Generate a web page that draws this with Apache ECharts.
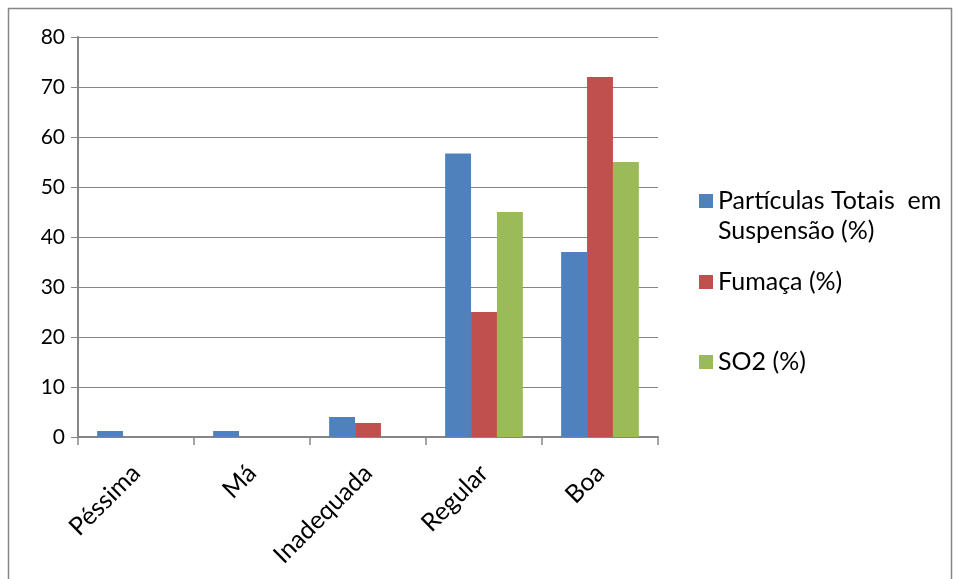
<!DOCTYPE html>
<html>
<head>
<meta charset="utf-8">
<script src="https://cdn.jsdelivr.net/npm/echarts@6/dist/echarts.min.js"></script>
<style>
  html, body { margin: 0; padding: 0; background: #fff; }
  #chart { width: 957px; height: 579px; }
</style>
</head>
<body>
<div id="chart"></div>
<script>
// Air-quality classes and share of samples per pollutant (%)
var categories = ['Péssima', 'Má', 'Inadequada', 'Regular', 'Boa'];
var seriesNames = ['Partículas Totais  em Suspensão (%)', 'Fumaça (%)', 'SO2 (%)'];
var ptsValues = [1.2, 1.2, 4.0, 56.7, 37];
var fumacaValues = [0, 0, 2.8, 25, 72];
var so2Values = [0, 0, 0, 45, 55];
var yTicks = { min: 0, max: 80, interval: 10 };

var colors = ['#4F81BD', '#C0504D', '#9BBB59'];
var fontFamily = 'Lato, "Open Sans", sans-serif';
var gray = '#868686';

var chart = echarts.init(document.getElementById('chart'), null, { renderer: 'canvas' });

// One legend block per series so each entry can sit at its own height.
// The long name wraps onto two lines; a leading blank line keeps the
// swatch level with the first line of text.
function legendAt(name, top) {
  return {
    data: [name],
    left: 699,
    top: top,
    orient: 'vertical',
    padding: 0,
    itemWidth: 14,
    itemHeight: 14,
    itemGap: 0,
    icon: 'rect',
    selectedMode: false,
    formatter: function (n) {
      return n === seriesNames[0] ? ' \nPartículas Totais  em\nSuspensão (%)' : n;
    },
    textStyle: {
      fontFamily: fontFamily,
      fontSize: 25,
      color: '#000',
      lineHeight: 30
    }
  };
}

chart.setOption({
  animation: false,
  backgroundColor: '#fff',
  graphic: [{
    type: 'rect',
    shape: { x: 8.5, y: 8.5, width: 943, height: 620 },
    style: { fill: 'none', stroke: gray, lineWidth: 1.5 },
    silent: true
  }],
  grid: { left: 78, right: 299, top: 37, bottom: 142 },
  legend: [
    legendAt(seriesNames[0], 156),
    legendAt(seriesNames[1], 267),
    legendAt(seriesNames[2], 347)
  ],
  xAxis: {
    type: 'category',
    data: categories,
    axisLine: { lineStyle: { color: gray, width: 2 } },
    axisTick: { show: true, length: 8, alignWithLabel: false, lineStyle: { color: gray, width: 1.5 } },
    axisLabel: {
      rotate: 45,
      margin: 32,
      fontFamily: fontFamily,
      fontSize: 25,
      color: '#000',
      interval: 0
    }
  },
  yAxis: {
    type: 'value',
    min: yTicks.min,
    max: yTicks.max,
    interval: yTicks.interval,
    axisLine: { show: true, lineStyle: { color: gray, width: 2 } },
    axisTick: { show: true, length: 7, inside: false, lineStyle: { color: gray, width: 1 } },
    splitLine: { show: true, lineStyle: { color: gray, width: 1 } },
    axisLabel: {
      margin: 13,
      fontFamily: fontFamily,
      fontSize: 21,
      color: '#000'
    }
  },
  series: [
    { name: seriesNames[0], type: 'bar', data: ptsValues, itemStyle: { color: colors[0] }, barGap: '0%', barCategoryGap: '33%' },
    { name: seriesNames[1], type: 'bar', data: fumacaValues, itemStyle: { color: colors[1] }, barGap: '0%', barCategoryGap: '33%' },
    { name: seriesNames[2], type: 'bar', data: so2Values, itemStyle: { color: colors[2] }, barGap: '0%', barCategoryGap: '33%' }
  ]
});
</script>
</body>
</html>
